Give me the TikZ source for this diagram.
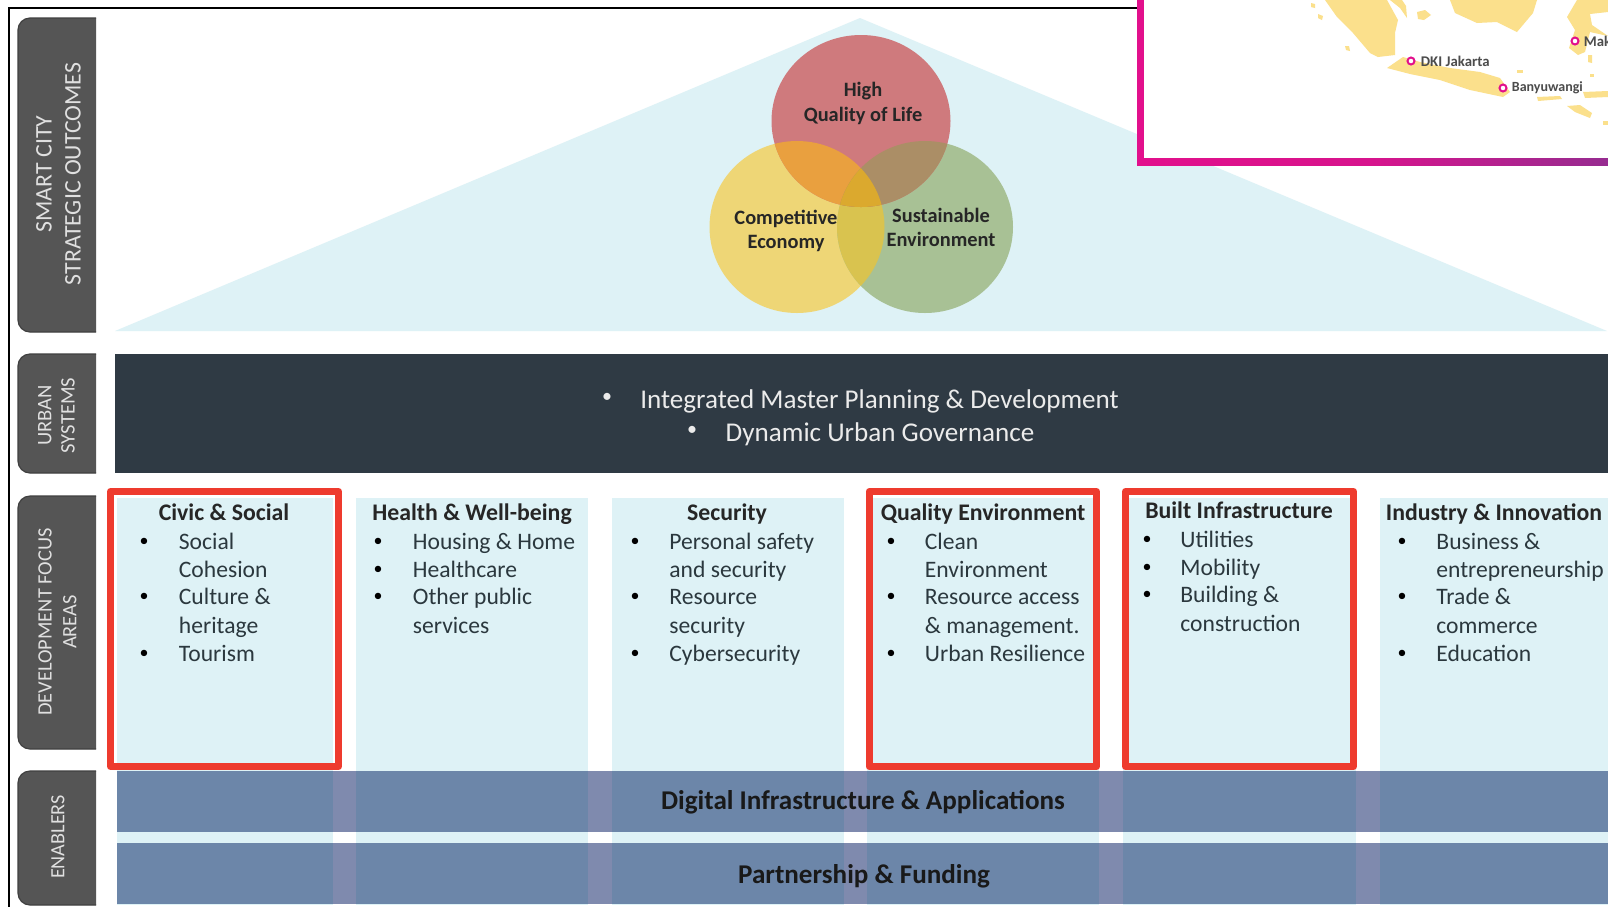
\documentclass[tikz,border=0pt]{standalone}
\usepackage{fontspec}
\setmainfont{Carlito}
\usetikzlibrary{positioning}

\definecolor{tabgrey}{HTML}{555555}
\definecolor{paleblue}{HTML}{DEF2F6}
\definecolor{darkbar}{HTML}{2F3A44}
\definecolor{steelbar}{HTML}{6C86A9}
\definecolor{stripbar}{HTML}{7F8AAE}
\definecolor{redline}{HTML}{EE3B2E}
\definecolor{inktext}{HTML}{2B383E}
\definecolor{landyellow}{HTML}{FBE08C}
\definecolor{framepink}{HTML}{E2108C}
\definecolor{framepurple}{HTML}{962C90}
\definecolor{vennred}{HTML}{CF7A7D}
\definecolor{vennyellow}{HTML}{EED676}
\definecolor{venngreen}{HTML}{A8C195}
\definecolor{vennyg}{HTML}{D9C34F}
\definecolor{vennry}{HTML}{E9A03F}
\definecolor{vennrg}{HTML}{AB8E66}
\definecolor{venncore}{HTML}{DBA92E}

\tikzset{
  tabbox/.style={fill=tabgrey,draw=black!75,line width=0.6pt,rounded corners=6pt},
  tabtext/.style={rotate=90,text=white!88!black,align=center,inner sep=0pt},
  redbox/.style={draw=redline,line width=3.5pt,line join=round},
  coltitle/.style={font=\fontsize{11.9}{13}\selectfont\bfseries,text=black!85,inner sep=0pt,text height=.75em,text depth=0pt},
  itemtext/.style={font=\fontsize{11.8}{13}\selectfont,text=inktext,anchor=west,inner sep=0pt,text height=.75em,text depth=0pt},
  itemdot/.style={font=\fontsize{9}{11}\selectfont,text=black,inner sep=0pt},
  urbantext/.style={font=\fontsize{13.55}{15}\selectfont,text=white!92!black,inner sep=0pt,text height=.65em,text depth=0pt},
  urbandot/.style={font=\fontsize{10}{12}\selectfont,text=white!92!black,inner sep=0pt},
  bartext/.style={font=\fontsize{13.55}{15}\selectfont\bfseries,text=black!90,inner sep=0pt,text height=.65em,text depth=0pt},
  venntext/.style={font=\fontsize{10.2}{12.2}\selectfont\bfseries,text=black!85,align=center,inner sep=0pt},
  maptext/.style={font=\fontsize{7.4}{9}\selectfont\bfseries,text=black!70,anchor=west,inner sep=0pt},
  mapdot/.style={circle,draw=framepink,fill=white,line width=1pt,minimum size=3.5pt,inner sep=0pt},
  redpath/.style={insert path={(861,121) ellipse [x radius=89.5,y radius=86]}},
  yellowpath/.style={insert path={(797,227) ellipse [x radius=87.5,y radius=86]}},
  greenpath/.style={insert path={(925,227) ellipse [x radius=88,y radius=86]}},
}

\begin{document}
\begin{tikzpicture}[x=0.5pt,y=-0.5pt]
  \useasboundingbox (0,0) rectangle (1608,907);
  \clip (0,0) rectangle (1608,907);
  \fill[white] (0,0) rectangle (1608,907);

  % outer frame
  \draw[black,line width=1pt] (1137,7.5) -- (8.5,7.5) -- (8.5,907);

  % side tabs
  \draw[tabbox] (96,18) -- (18,18) -- (18,332) -- (96,332);
  \draw[tabbox] (96,354) -- (18,354) -- (18,473) -- (96,473);
  \draw[tabbox] (96,496) -- (18,496) -- (18,749) -- (96,749);
  \draw[tabbox] (96,771) -- (18,771) -- (18,905) -- (96,905);
  \node[tabtext,font=\fontsize{11.9}{14.4}\selectfont] (tabsmart) at (58.5,174) {SMART CITY\\STRATEGIC OUTCOMES};
  \node[tabtext,font=\fontsize{10.3}{11.6}\selectfont] (taburban) at (56.5,415.5) {URBAN\\SYSTEMS};
  \node[tabtext,font=\fontsize{10.2}{12.4}\selectfont] (tabfocus) at (57.5,622) {DEVELOPMENT FOCUS\\AREAS};
  \node[tabtext,font=\fontsize{10.1}{11}\selectfont] (tabenablers) at (58,837) {ENABLERS};

  % outcomes triangle
  \fill[paleblue] (115,331) -- (860,18) -- (1607,331) -- cycle;

  % venn
  \fill[vennyellow,yellowpath];
  \fill[venngreen,greenpath];
  \begin{scope}
    \clip[yellowpath];
    \fill[vennyg,greenpath];
  \end{scope}
  \fill[vennred,redpath];
  \begin{scope}
    \clip[redpath];
    \fill[vennry,yellowpath];
    \fill[vennrg,greenpath];
    \clip[yellowpath];
    \fill[venncore,greenpath];
  \end{scope}
  \node[venntext] (labhigh) at (863,103.5) {High\\Quality of Life};
  \node[venntext] (labeconomy) at (786,231) {Competitive\\Economy};
  \node[venntext] (labenviron) at (941,227.5) {Sustainable\\Environment};

  % urban systems bar
  \fill[darkbar] (115,354) rectangle (1608,473);
  \node[urbandot] (dotplan) at (607,398) {\textbullet};
  \node[urbantext] (urbanplan) at (879.5,401.5) {Integrated Master Planning \& Development};
  \node[urbandot] (dotgov) at (692,431) {\textbullet};
  \node[urbantext] (urbangov) at (880,434.5) {Dynamic Urban Governance};

  % focus columns
  \foreach \xa/\xb in {117/333,356/588,612/844,867/1099,1123/1356,1379.5/1608}
    \fill[paleblue] (\xa,498) rectangle (\xb,905);

  % enabler bars
  \fill[steelbar] (117,771) rectangle (1608,832);
  \fill[steelbar] (117,843) rectangle (1608,904);
  \foreach \xa/\xb in {333/356,588/612,844/867,1099/1123,1356/1379.5} {
    \fill[stripbar] (\xa,771) rectangle (\xb,832);
    \fill[stripbar] (\xa,843) rectangle (\xb,904);
  }
  \node[bartext] (bardigital) at (863,803) {Digital Infrastructure \& Applications};
  \node[bartext] (barfunding) at (864,877) {Partnership \& Funding};

  % red outlines
  \draw[redbox] (110.5,491.5) rectangle (338.5,766.5);
  \draw[redbox] (869,491.5) rectangle (1096.5,766.5);
  \draw[redbox] (1125.5,491.5) rectangle (1353.5,766.5);

  % column titles
  \node[coltitle] (titlecivic) at (224,513) {Civic \& Social};
  \node[coltitle] (titlehealth) at (472,513) {Health \& Well-being};
  \node[coltitle] (titlesecurity) at (727,513) {Security};
  \node[coltitle] (titlequality) at (983,513) {Quality Environment};
  \node[coltitle] (titlebuilt) at (1239,511) {Built Infrastructure};
  \node[coltitle] (titleindustry) at (1494,513) {Industry \& Innovation};

  % column items
  \foreach \n/\yy/\t in {a/542/Social,b/570/Cohesion,c/597/Culture \&,d/626/heritage,e/654/Tourism}
    \node[itemtext] (civic\n) at (178.5,\yy) {\t};
  \foreach \n/\yy in {a/542,c/597,e/654}
    \node[itemdot] (civicdot\n) at (144,\yy) {\textbullet};

  \foreach \n/\yy/\t in {a/542/Housing \& Home,b/570/Healthcare,c/597/Other public,d/626/services}
    \node[itemtext] (health\n) at (412.5,\yy) {\t};
  \foreach \n/\yy in {a/542,b/570,c/597}
    \node[itemdot] (healthdot\n) at (378,\yy) {\textbullet};

  \foreach \n/\yy/\t in {a/542/Personal safety,b/570/and security,c/597/Resource,d/626/security,e/654/Cybersecurity}
    \node[itemtext] (security\n) at (669,\yy) {\t};
  \foreach \n/\yy in {a/542,c/597,e/654}
    \node[itemdot] (securitydot\n) at (635,\yy) {\textbullet};

  \foreach \n/\yy/\t in {a/542/Clean,b/570/Environment,c/597/Resource access,d/626/\& management.,e/654/Urban Resilience}
    \node[itemtext] (quality\n) at (924.5,\yy) {\t};
  \foreach \n/\yy in {a/542,c/597,e/654}
    \node[itemdot] (qualitydot\n) at (891,\yy) {\textbullet};

  \foreach \n/\yy/\t in {a/540/Utilities,b/568/Mobility,c/595/Building \&,d/624/construction}
    \node[itemtext] (built\n) at (1180,\yy) {\t};
  \foreach \n/\yy in {a/540,b/568,c/595}
    \node[itemdot] (builtdot\n) at (1147,\yy) {\textbullet};

  \foreach \n/\yy/\t in {a/542/Business \&,b/570/entrepreneurship,c/597/Trade \&,d/626/commerce,e/654/Education}
    \node[itemtext] (industry\n) at (1436,\yy) {\t};
  \foreach \n/\yy in {a/542,c/597,e/654}
    \node[itemdot] (industrydot\n) at (1402,\yy) {\textbullet};

  % map inset
  \fill[left color=framepink,right color=framepurple,middle color=framepink!85!framepurple] (1137,0) rectangle (1608,165);
  \fill[white] (1144,0) rectangle (1608,158);
  \begin{scope}[fill=landyellow]
    \fill (1325,0) -- (1337,17) -- (1353,33) -- (1370,53) -- (1378,57) -- (1395,55) -- (1395,33) -- (1398,20) -- (1387,0) -- cycle;
    \fill (1390,0) -- (1400,8) -- (1407,18) -- (1406,6) -- (1402,0) -- cycle;
    \fill (1417,12) -- (1425,10) -- (1431,15) -- (1424,20) -- (1418,19) -- cycle;
    \fill (1450,0) -- (1455,13) -- (1477,23) -- (1497,22) -- (1517,32) -- (1533,13) -- (1537,0) -- cycle;
    \fill (1567,17) -- (1577,0) -- (1608,0) -- (1608,12) -- (1590,14) -- (1592,25) -- (1608,36) -- (1590,32) -- (1585,52) -- (1578,55) -- (1569,48) -- (1575,30) -- cycle;
    \fill (1387,68) -- (1403,57) -- (1420,62) -- (1450,68) -- (1480,72) -- (1500,78) -- (1510,92) -- (1503,97) -- (1470,90) -- (1440,80) -- (1410,74) -- cycle;
    \fill (1583,92) -- (1608,91) -- (1608,97) -- (1585,98) -- cycle;
    \fill (1537,97) -- (1560,96) -- (1562,99) -- (1538,101) -- cycle;
    \fill (1567,106) -- (1580,105) -- (1592,113) -- (1590,118) -- (1575,112) -- cycle;
    \fill (1345,46) -- (1349,46) -- (1350,51) -- (1346,50) -- cycle;
    \fill (1311,3) -- (1315,4) -- (1315,8) -- (1311,7) -- cycle;
    \fill (1318,14) -- (1323,16) -- (1322,20) -- (1318,18) -- cycle;
    \fill (1517,70) -- (1523,70) -- (1523,73) -- (1517,73) -- cycle;
    \fill (1588,55) -- (1592,55) -- (1592,63) -- (1588,62) -- cycle;
    \fill (1590,74) -- (1594,74) -- (1594,77) -- (1590,77) -- cycle;
    \fill (1603,121) -- (1608,121) -- (1608,125) -- (1603,125) -- cycle;
  \end{scope}
  \node[mapdot] (dotjakarta) at (1411,61) {};
  \node[maptext,right=2.5pt of dotjakarta] (labjakarta) {DKI Jakarta};
  \node[mapdot] (dotbanyu) at (1503,88) {};
  \node[maptext,font=\fontsize{7}{9}\selectfont\bfseries,right=2pt of dotbanyu] (labbanyu) {Banyuwangi};
  \node[mapdot] (dotmak) at (1575,41) {};
  \node[maptext,right=2pt of dotmak] (labmak) {Mak};
\end{tikzpicture}
\end{document}
